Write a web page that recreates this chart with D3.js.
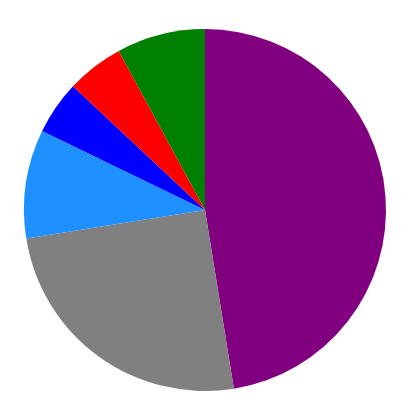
<!DOCTYPE html>
<html>
<head>
<meta charset="utf-8">
<script src="https://cdn.jsdelivr.net/npm/d3@7"></script>
<style>
html,body{margin:0;padding:0;background:#fff;}
svg{display:block;}
</style>
</head>
<body>
<script>
const categories = ["A", "B", "C", "D", "E", "F"];
const values = [47.4, 25.0, 9.7, 4.8, 5.1, 7.9];
const colors = ["purple", "gray", "dodgerblue", "blue", "red", "green"];

const width = 411, height = 420;
const cx = 205, cy = 210, radius = 181;

const svg = d3.select("body").append("svg")
  .attr("width", width).attr("height", height);

const data = categories.map((c, i) => ({ cat: c, value: values[i], color: colors[i] }));

const pie = d3.pie().sort(null).value(d => d.value);
const arc = d3.arc().innerRadius(0).outerRadius(radius);

svg.append("g")
  .attr("transform", `translate(${cx},${cy})`)
  .selectAll("path")
  .data(pie(data))
  .join("path")
  .attr("d", arc)
  .attr("fill", d => d.data.color);
</script>
</body>
</html>
